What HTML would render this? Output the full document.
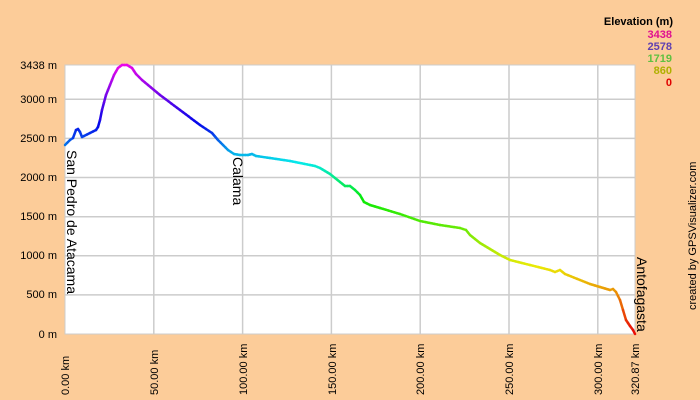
<!DOCTYPE html>
<html><head><meta charset="utf-8"><style>
html,body{margin:0;padding:0;background:#fccc99;}
svg{display:block;font-family:"Liberation Sans",Arial,sans-serif;}
</style></head><body>
<svg id="s" width="700" height="400" xmlns="http://www.w3.org/2000/svg">
<rect width="700" height="400" fill="#fccc99"/>
<rect x="65" y="65" width="570" height="269" fill="#fff" stroke="#ccc"/>
<g stroke="#ccc" stroke-width="1.5">
<line x1="65" x2="635" y1="294.9" y2="294.9"/><line x1="65" x2="635" y1="255.8" y2="255.8"/>
<line x1="65" x2="635" y1="216.7" y2="216.7"/><line x1="65" x2="635" y1="177.5" y2="177.5"/>
<line x1="65" x2="635" y1="138.4" y2="138.4"/><line x1="65" x2="635" y1="99.3" y2="99.3"/>
<line y1="65" y2="334" x1="153.8" x2="153.8"/><line y1="65" y2="334" x1="242.6" x2="242.6"/>
<line y1="65" y2="334" x1="331.4" x2="331.4"/><line y1="65" y2="334" x1="420.2" x2="420.2"/>
<line y1="65" y2="334" x1="509" x2="509"/><line y1="65" y2="334" x1="597.8" x2="597.8"/>
</g>
<g font-size="11" fill="#000" text-anchor="end">
<text x="57" y="69">3438 m</text><text x="57" y="103">3000 m</text><text x="57" y="142">2500 m</text>
<text x="57" y="181">2000 m</text><text x="57" y="220">1500 m</text><text x="57" y="259">1000 m</text>
<text x="57" y="298">500 m</text><text x="57" y="338">0 m</text>
</g>
<g font-size="11" fill="#000" text-anchor="start">
<text transform="translate(69,395) rotate(-90)">0.00 km</text>
<text transform="translate(158,395) rotate(-90)">50.00 km</text>
<text transform="translate(247,395) rotate(-90)">100.00 km</text>
<text transform="translate(336,395) rotate(-90)">150.00 km</text>
<text transform="translate(424,395) rotate(-90)">200.00 km</text>
<text transform="translate(513,395) rotate(-90)">250.00 km</text>
<text transform="translate(602,395) rotate(-90)">300.00 km</text>
<text transform="translate(639,395) rotate(-90)">320.87 km</text>
</g>
<g font-size="14" fill="#000">
<text transform="translate(67,150) rotate(90)">San Pedro de Atacama</text>
<text transform="translate(233,157) rotate(90)">Calama</text>
<text transform="translate(637,257) rotate(90)">Antofagasta</text>
</g>
<text transform="translate(696,310) rotate(-90)" font-size="11" fill="#000">created by GPSVisualizer.com</text>
<g font-size="11" font-weight="bold" text-anchor="end">
<text x="673" y="25" fill="#000">Elevation (m)</text>
<text x="672" y="38" fill="#e0108f">3438</text>
<text x="672" y="50" fill="#6040b0">2578</text>
<text x="672" y="62" fill="#60c040">1719</text>
<text x="672" y="74" fill="#b0b000">860</text>
<text x="672" y="86" fill="#e00000">0</text>
</g>
<g id="line"></g>
</svg>
<script>
var p=[[65,145],[70,140],[73,138],[76,130],[78,129],[80,132],[82,137],[84,136],[90,133],[96,130],[98,127],[100,120],[102,110],[106,95],[110,85],[114,75],[118,68],[122,65],[127,65],[132,68],[136,74],[142,80],[160,95],[180,110],[200,125],[212,133],[218,140],[228,150],[234,154],[240,155],[248,155],[252,154],[256,156],[270,158],[290,161],[310,165],[315,166],[320,168],[330,174],[340,182],[345,186],[350,186],[355,190],[360,195],[364,202],[370,205],[380,208],[400,214],[420,221],[440,225],[460,228],[466,230],[470,235],[480,243],[490,249],[500,255],[510,260],[530,265],[550,270],[555,272],[560,270],[565,274],[580,280],[590,284],[600,287],[610,290],[613,289],[616,292],[620,300],[623,310],[626,320],[630,326],[633,330],[635,334]];
function hueOf(e){if(e<1719)return e/1719*120;if(e<2578)return 120+(e-1719)/859*110;return 230+(e-2578)/860*70;}
var g=document.getElementById('line'),h='';
for(var i=0;i<p.length-1;i++){var a=p[i],b=p[i+1],n=Math.max(1,Math.ceil(Math.abs(b[0]-a[0])/3));
for(var k=0;k<n;k++){var x1=a[0]+(b[0]-a[0])*k/n,y1=a[1]+(b[1]-a[1])*k/n,x2=a[0]+(b[0]-a[0])*(k+1)/n,y2=a[1]+(b[1]-a[1])*(k+1)/n;
var e=(334-(y1+y2)/2)/0.07824;var hue=Math.max(0,Math.min(300,hueOf(e)));
h+='<line x1="'+x1+'" y1="'+y1+'" x2="'+x2+'" y2="'+y2+'" stroke="hsl('+hue+',95%,47%)" stroke-width="2.5" stroke-linecap="round"/>';}}
g.innerHTML=h;
</script>
</body></html>
